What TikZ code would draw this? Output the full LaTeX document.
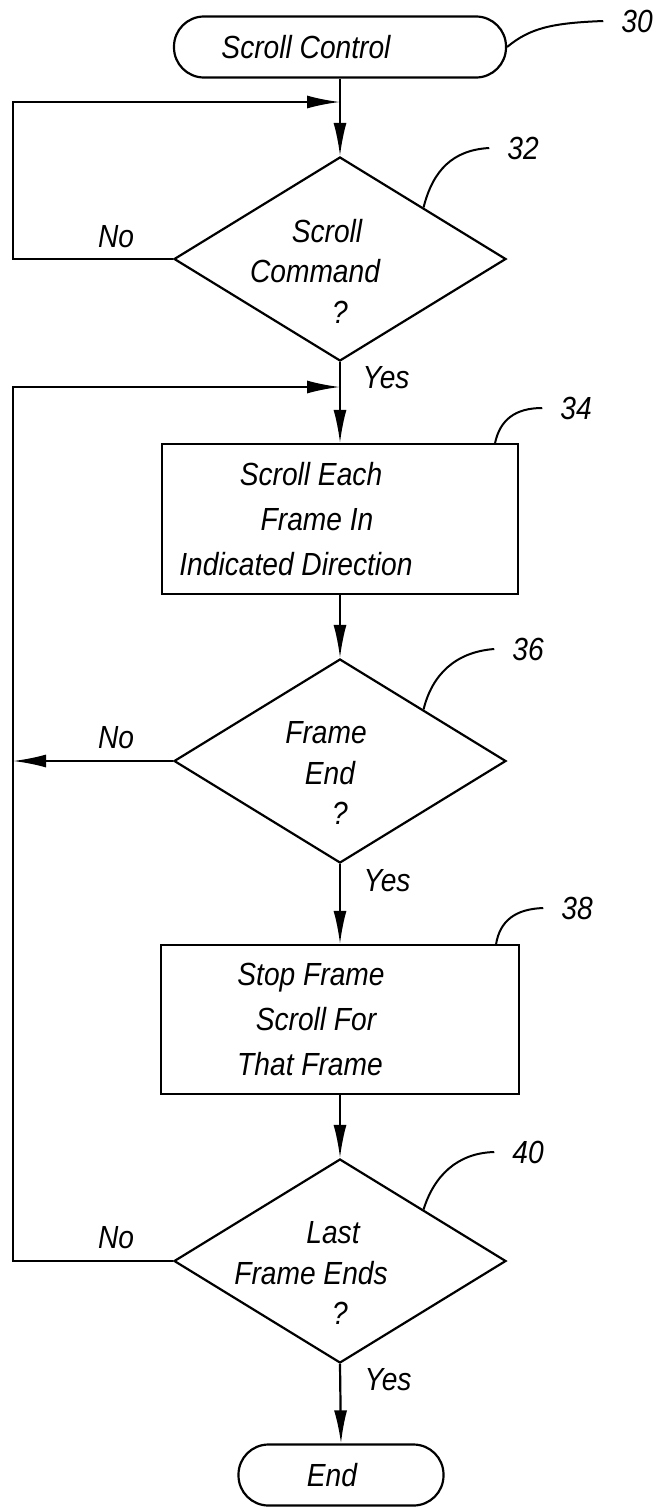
\documentclass[tikz,border=0pt]{standalone}
\usepackage{fontspec}
\setmainfont{Liberation Sans}[FakeStretch=0.88]
\usetikzlibrary{arrows.meta,shapes.geometric}
\begin{document}
\begin{tikzpicture}[x=1pt,y=-1pt,line width=2.2pt,
  every node/.style={font=\fontsize{32}{36}\selectfont\itshape},
  termbox/.style={draw,rounded corners=30pt,minimum height=61pt,inner sep=0pt},
  procbox/.style={draw,rectangle,minimum width=356pt,minimum height=150pt,align=center,inner sep=0pt,font=\fontsize{32}{45}\selectfont\itshape},
  decbox/.style={draw,diamond,minimum width=332pt,minimum height=204pt,inner sep=0pt},
  dectext/.style={align=center,inner sep=0pt,font=\fontsize{32}{40.5}\selectfont\itshape,yshift=-12pt},
  reflabel/.style={inner xsep=17pt,inner ysep=0pt},
  yesno/.style={inner sep=0pt},
  flow/.style={-{Latex[length=33pt,width=13pt]}},
  leader/.style={line width=2pt}]
\useasboundingbox (0,0) rectangle (660,1507);

% main nodes
\node[termbox,minimum width=332pt] (t30) at (340,47) {Scroll Control\kern68pt};
\node[decbox,label={[dectext]center:{Scroll\kern26pt\\Command\kern50pt\\?}}] (d32) at (340,259) {};
\node[procbox] (b34) at (340,519) {Scroll Each\kern58pt\\Frame In\kern46pt\\Indicated Direction\kern88pt};
\node[decbox,label={[dectext]center:{Frame\kern28pt\\End\kern20pt\\?}}] (d36) at (340,761) {};
\node[procbox,minimum width=358pt,minimum height=149pt] (b38) at (340,1019.5) {Stop Frame\kern58pt\\Scroll For\kern48pt\\That Frame\kern60pt};
\node[decbox,label={[dectext]center:{Last\kern14pt\\Frame Ends\kern58pt\\?}}] (d40) at (340,1261) {};
\node[termbox,minimum width=205pt] (e) at (341,1475) {End\kern18pt};

% reference numerals
\node[reflabel] (n30) at (637,21) {30};
\node[reflabel] (n32) at (523,148) {32};
\node[reflabel] (n34) at (576,408) {34};
\node[reflabel] (n36) at (528,649) {36};
\node[reflabel] (n38) at (577,908) {38};
\node[reflabel] (n40) at (528,1152) {40};

\draw[leader] (t30.east) .. controls (530,28) and (552,23) .. (n30.west);
\draw[leader] (d32.north east) .. controls (433,170) and (453,150) .. (n32.west);
\draw[leader] ([xshift=-24pt]b34.north east) .. controls (500,420) and (515,408) .. (n34.west);
\draw[leader] (d36.north east) .. controls (432,675) and (455,652) .. (n36.west);
\draw[leader] ([xshift=-24pt]b38.north east) .. controls (500,921) and (515,909) .. (n38.west);
\draw[leader] (d40.north east) .. controls (434,1176) and (457,1153) .. (n40.west);

% yes / no labels
\node[yesno] (y32) at (386,378) {Yes};
\node[yesno] (y36) at (387,881) {Yes};
\node[yesno] (y40) at (388,1380) {Yes};
\node[yesno] (no32) at (116,237) {No};
\node[yesno] (no36) at (116,738) {No};
\node[yesno] (no40) at (116,1238) {No};

% connectors
\coordinate (j1) at (340,102);
\coordinate (j2) at (340,387);
\coordinate (c32) at (13,259);
\coordinate (c36) at (13,761);
\coordinate (c40) at (13,1261);

\draw[flow] (t30.south) -- (d32.north);
\draw[flow] (d32.west) -- (c32) |- (j1);
\draw[flow] (d32.south) -- (b34.north);
\draw[flow] (d40.west) -- (c40) |- (j2);
\draw[flow] (b34.south) -- (d36.north);
\draw[flow] (d36.west) -- (c36);
\draw[flow] (d36.south) -- (b38.north);
\draw[flow] (b38.south) -- (d40.north);
\draw[flow] (d40.south) -- (e.north);
\end{tikzpicture}
\end{document}
